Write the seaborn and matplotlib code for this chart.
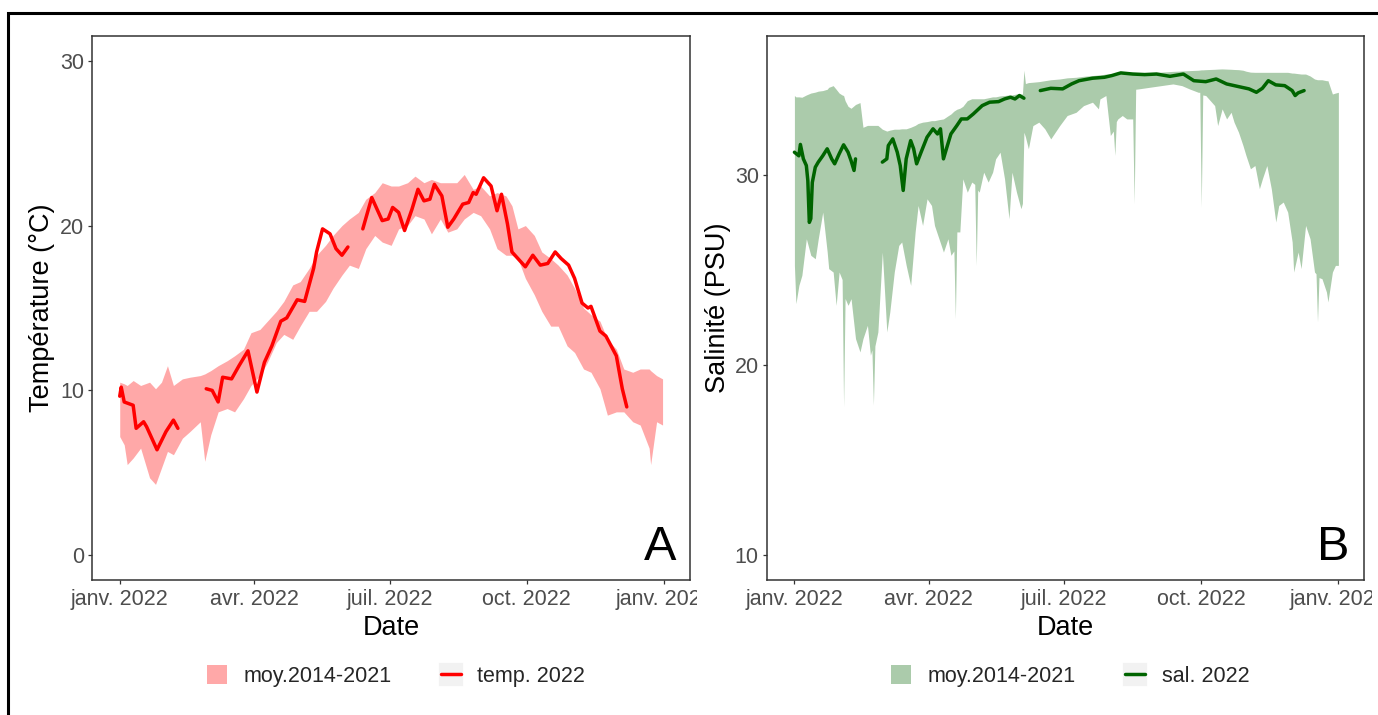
import numpy as np
import pandas as pd
import matplotlib
matplotlib.use("Agg")
import matplotlib.pyplot as plt
import seaborn as sns
from matplotlib.patches import Patch, Rectangle
from matplotlib.lines import Line2D
from matplotlib.legend_handler import HandlerTuple
from matplotlib.transforms import Bbox, TransformedBbox

# ---------------- data (day of year 2022, values) ----------------
temp_band_day = [0, 3, 5, 9, 14, 20, 24, 28, 32, 36, 42, 47, 54, 57, 61, 66, 72, 77, 83, 88,
                 94, 99, 105, 110, 116, 121, 127, 132, 138, 143, 149, 154, 160, 165, 171, 176,
                 182, 187, 193, 198, 204, 209, 215, 220, 226, 231, 237, 242, 248, 253, 259, 263,
                 267, 272, 278, 283, 289, 294, 300, 305, 311, 316, 322, 327, 333, 338, 344, 349,
                 355, 356, 360, 364]
temp_band_low = [7.2, 6.7, 5.5, 5.9, 6.5, 4.7, 4.3, 5.3, 6.3, 6.1, 7.1, 7.5, 8.1, 5.7, 7.3, 8.7,
                 8.9, 8.7, 9.5, 10.3, 10.9, 11.7, 12.9, 13.4, 13.1, 13.9, 14.8, 14.8, 15.4, 16.2,
                 17.0, 17.6, 17.4, 18.6, 19.4, 19.0, 18.8, 19.8, 20.0, 20.6, 20.4, 19.5, 20.4,
                 19.6, 19.8, 20.4, 20.8, 20.6, 19.8, 18.6, 18.2, 18.2, 18.0, 16.8, 15.8, 14.8,
                 13.9, 13.9, 12.7, 12.3, 11.3, 11.1, 10.1, 8.5, 8.7, 8.7, 8.1, 7.9, 6.5, 5.5,
                 8.1, 7.9]
temp_band_high = [10.5, 10.4, 10.3, 10.6, 10.3, 10.5, 10.1, 10.5, 11.5, 10.3, 10.7, 10.8, 10.9,
                  11.0, 11.2, 11.5, 11.8, 12.1, 12.5, 13.5, 13.7, 14.2, 14.8, 15.4, 16.4, 16.6,
                  17.4, 18.2, 18.8, 19.4, 20.0, 20.4, 20.8, 21.6, 22.0, 22.6, 22.4, 22.4, 22.6,
                  23.0, 22.6, 22.8, 22.6, 22.6, 22.6, 23.1, 22.2, 22.4, 21.8, 22.0, 21.8, 21.2,
                  19.8, 20.0, 19.4, 18.4, 18.0, 17.6, 17.0, 16.2, 15.0, 14.6, 14.2, 13.1, 12.5,
                  11.3, 11.1, 11.3, 11.3, 11.2, 10.9, 10.7]

temp_2022_days = [
    [0, 1, 3, 9, 11, 16, 18, 25, 31, 36, 39],
    [58, 62, 66, 69, 75, 80, 86, 92, 97, 102, 108, 112, 119, 124, 130, 132, 136, 141, 145, 149, 153],
    [163, 169, 176, 180, 183, 187, 191, 196, 200, 204, 208, 211, 216, 220, 224, 230, 234, 237, 239,
     244, 249, 253, 256, 260, 263, 267, 272, 277, 282, 287, 292, 296, 301, 305, 310, 314, 316, 322,
     326, 333, 337, 340],
]
temp_2022_vals = [
    [9.65, 10.2, 9.3, 9.1, 7.7, 8.1, 7.8, 6.4, 7.5, 8.2, 7.7],
    [10.1, 10.0, 9.3, 10.8, 10.7, 11.5, 12.4, 9.9, 11.7, 12.7, 14.2, 14.4, 15.5, 15.4, 17.4, 18.4,
     19.8, 19.5, 18.6, 18.2, 18.7],
    [19.8, 21.7, 20.3, 20.4, 21.1, 20.8, 19.7, 21.0, 22.2, 21.5, 21.6, 22.5, 21.8, 19.9, 20.4, 21.3,
     21.4, 22.0, 21.9, 22.9, 22.4, 20.9, 21.9, 20.1, 18.4, 18.0, 17.5, 18.2, 17.6, 17.7, 18.4, 18.0,
     17.6, 16.8, 15.3, 15.0, 15.1, 13.6, 13.3, 12.1, 10.1, 9.0],
]

sal_band_day = [0, 1, 3, 5, 8, 11, 14, 16, 19, 22,
                23, 26, 28, 30, 32, 33, 34, 36, 38, 41,
                44, 46, 49, 51, 52, 53, 54, 56, 59, 62,
                64, 67, 70, 72, 75, 78, 81, 83, 86, 89,
                92, 94, 97, 100, 103, 105, 107, 108, 109, 111,
                113, 116, 119, 121, 122, 123, 124, 127, 130, 133,
                135, 138, 141, 144, 146, 149, 152, 153, 154, 155,
                157, 160, 164, 168, 172, 178, 183, 189, 194, 200,
                204, 205, 209, 212, 214, 215, 216, 217, 220, 223,
                226, 227, 228, 229, 231, 238, 246, 254, 260, 265,
                271, 272, 273, 274, 276, 282, 284, 287, 290, 293,
                295, 298, 301, 303, 306, 309, 312, 314, 317, 320,
                323, 325, 328, 331, 334, 335, 338, 340, 343, 346,
                349, 350, 351, 352, 354, 357, 358, 361, 363, 365]
sal_band_low = [25.24, 23.23, 24.19, 24.72, 26.64, 25.77, 25.59, 26.64, 28.04, 25.94,
                25.07, 24.89, 23.14, 24.89, 24.5, 17.8, 23.5, 23.14, 23.49, 21.39,
                20.69, 21.39, 22.09, 20.52, 20.8, 17.89, 21.0, 21.74, 25.94, 21.74,
                22.79, 24.89, 26.29, 26.47, 25.24, 24.19, 27.0, 28.39, 27.34, 28.74,
                28.39, 27.34, 26.64, 25.94, 26.64, 25.77, 26.0, 22.44, 27.0, 27.0,
                29.79, 29.09, 29.62, 29.5, 25.24, 29.2, 29.09, 30.14, 29.62, 30.14,
                30.84, 31.19, 29.79, 27.69, 30.14, 29.09, 28.22, 28.5, 32.24, 32.0,
                31.37, 32.59, 32.77, 32.42, 31.89, 32.59, 33.12, 33.29, 33.64, 33.82,
                33.47, 33.99, 34.17, 32.07, 32.3, 31.02, 32.8, 32.94, 33.12, 32.94,
                32.94, 32.94, 28.48, 34.5, 34.52, 34.6, 34.69, 34.78, 34.69, 34.52,
                34.34, 34.34, 28.3, 34.2, 34.17, 33.64, 32.59, 33.47, 32.94, 33.29,
                32.77, 32.24, 31.54, 31.02, 30.32, 30.49, 29.27, 29.79, 30.49, 29.27,
                27.52, 28.39, 28.57, 28.04, 26.47, 24.89, 25.94, 25.07, 27.34, 26.64,
                24.89, 24.8, 22.27, 24.6, 24.54, 23.84, 23.32, 24.89, 25.24, 25.24]
sal_band_high = [34.17, 34.1, 34.1, 34.08, 34.2, 34.3, 34.35, 34.4, 34.43, 34.5,
                 34.6, 34.69, 34.5, 34.3, 34.2, 34.17, 33.9, 33.6, 33.5, 33.7,
                 33.8, 32.5, 32.6, 32.6, 32.6, 32.6, 32.6, 32.6, 32.4, 32.3,
                 32.35, 32.4, 32.4, 32.42, 32.42, 32.5, 32.6, 32.7, 32.77, 32.8,
                 32.85, 32.85, 32.9, 32.94, 33.1, 33.2, 33.35, 33.4, 33.45, 33.5,
                 33.6, 33.9, 34.0, 34.0, 34.0, 34.0, 34.0, 34.0, 34.05, 34.1,
                 34.1, 34.15, 34.17, 34.2, 34.2, 34.25, 34.25, 34.25, 35.5, 34.8,
                 34.85, 34.87, 34.9, 34.95, 35.0, 35.04, 35.1, 35.13, 35.18, 35.22,
                 35.25, 35.25, 35.3, 35.3, 35.31, 35.32, 35.33, 35.35, 35.38, 35.39,
                 35.39, 35.39, 35.39, 35.39, 35.39, 35.39, 35.4, 35.44, 35.46, 35.48,
                 35.5, 35.51, 35.52, 35.52, 35.53, 35.55, 35.56, 35.57, 35.56, 35.55,
                 35.54, 35.53, 35.5, 35.45, 35.4, 35.39, 35.39, 35.39, 35.39, 35.39,
                 35.39, 35.39, 35.39, 35.39, 35.35, 35.35, 35.32, 35.3, 35.3, 35.2,
                 35.04, 35.02, 35.0, 35.0, 35.0, 34.95, 34.95, 34.25, 34.3, 34.34]

sal_2022_days = [
    [0, 3, 4, 6, 8, 9, 10, 11, 12, 14, 16, 19, 22, 25, 27, 30, 33, 36, 38, 40, 41],
    [59, 62, 63, 66, 69, 71, 73, 75, 78, 80, 82, 85, 89, 93, 96, 98, 100, 102, 105, 109, 112, 116,
     120, 126, 131, 137, 141, 145, 148, 151, 154],
    [165, 172, 180, 186, 191, 200, 208, 213, 219, 227, 235, 243, 252, 261, 268, 276, 283, 290, 298,
     305, 310, 314, 318, 323, 329, 334, 336, 338, 342],
]
sal_2022_vals = [
    [31.19, 31.0, 31.6, 30.84, 30.49, 29.7, 27.5, 27.7, 29.6, 30.4, 30.67, 31.0, 31.37, 30.84,
     30.58, 31.1, 31.58, 31.19, 30.75, 30.23, 30.84],
    [30.67, 30.84, 31.54, 31.89, 31.19, 30.49, 29.18, 30.84, 31.8, 31.37, 30.58, 31.19, 31.98,
     32.42, 32.15, 32.42, 30.84, 31.37, 32.15, 32.59, 32.94, 32.94, 33.2, 33.64, 33.82, 33.85,
     33.99, 34.08, 33.99, 34.17, 34.03],
    [34.43, 34.55, 34.52, 34.78, 34.95, 35.08, 35.13, 35.22, 35.36, 35.3, 35.27, 35.3, 35.18,
     35.3, 34.95, 34.9, 35.04, 34.78, 34.64, 34.52, 34.34, 34.55, 34.95, 34.73, 34.69, 34.43,
     34.17, 34.31, 34.43],
]

tick_dates = ["2022-01-01", "2022-04-01", "2022-07-01", "2022-10-01", "2023-01-01"]
tick_labels = ["janv. 2022", "avr. 2022", "juil. 2022", "oct. 2022", "janv. 2023"]

# ---------------- styling ----------------
sns.set_style("ticks")
plt.rcParams["font.family"] = ["Liberation Sans", "DejaVu Sans"]

W, H = 1378, 715
fig = plt.figure(figsize=(W / 100, H / 100), dpi=100)

base = pd.Timestamp("2022-01-01")


def to_dates(days):
    return base + pd.to_timedelta(np.asarray(days, dtype=float), unit="D")


def line_frame(days_list, vals_list):
    parts = []
    for i, (d, v) in enumerate(zip(days_list, vals_list)):
        parts.append(pd.DataFrame({"date": to_dates(d), "val": v, "seg": i}))
    return pd.concat(parts, ignore_index=True)


GRID = "#333333"
TICKC = "#4D4D4D"


def style_axes(ax, yticks, ylim, ylabel, clip_right_px, ylabel_x):
    ax.set_xlim(base - pd.Timedelta(days=18.6), base + pd.Timedelta(days=382.4))
    ax.set_ylim(*ylim)
    ax.set_yticks(yticks)
    ax.set_xticks(pd.to_datetime(tick_dates))
    ax.set_xticklabels(tick_labels)
    for s in ax.spines.values():
        s.set_visible(True)
        s.set_color(GRID)
        s.set_linewidth(1.1)
    ax.tick_params(axis="both", direction="out", length=3.2, width=0.9, color=GRID,
                   labelsize=15.5, labelcolor=TICKC, pad=2.5)
    ax.tick_params(axis="x", pad=3.5)
    ax.set_xlabel("Date", fontsize=19.5, color="black")
    ax.set_ylabel(ylabel, fontsize=19.5, color="black")
    ax.xaxis.set_label_coords(0.5, -0.088)
    ax.xaxis.label.set_va("center")
    ax.yaxis.set_label_coords(ylabel_x, 0.5)
    ax.yaxis.label.set_va("center")
    ax.grid(False)
    clip = TransformedBbox(Bbox([[0, 0], [clip_right_px / W, 1]]), fig.transFigure)
    for lab in ax.get_xticklabels():
        lab.set_clip_box(clip)
        lab.set_clip_on(True)


# ---------------- panel A ----------------
axA = fig.add_axes([92 / W, (H - 580) / H, 598 / W, 544 / H])
colA_band = "#FFA8A8"
axA.fill_between(to_dates(temp_band_day), temp_band_low, temp_band_high,
                 color=colA_band, lw=0, zorder=1)
dfA = line_frame(temp_2022_days, temp_2022_vals)
sns.lineplot(data=dfA, x="date", y="val", units="seg", estimator=None, color="#FF0000",
             lw=2.5, ax=axA, legend=False, zorder=3)
style_axes(axA, [0, 10, 20, 30], (-1.5, 31.5), "Température (°C)", 697, (42 - 92) / 598)
axA.text(0.977, 0.037, "A", transform=axA.transAxes, ha="right", va="baseline",
         fontsize=35, color="black")

# ---------------- panel B ----------------
axB = fig.add_axes([766.7 / W, (H - 580) / H, 597.6 / W, 544 / H])
colB_band = "#ABCBAB"
axB.fill_between(to_dates(sal_band_day), sal_band_low, sal_band_high,
                 color=colB_band, lw=0, zorder=1)
dfB = line_frame(sal_2022_days, sal_2022_vals)
sns.lineplot(data=dfB, x="date", y="val", units="seg", estimator=None, color="#006400",
             lw=2.5, ax=axB, legend=False, zorder=3)
style_axes(axB, [10, 20, 30], (8.7, 37.3), "Salinité (PSU)", 1372, (718 - 766.7) / 597.6)
axB.text(0.976, 0.037, "B", transform=axB.transAxes, ha="right", va="baseline",
         fontsize=35, color="black")

# ---------------- legends ----------------
def add_legend(center_px, fill_col, line_col, line_label):
    bg = Patch(facecolor="#F2F2F2", edgecolor="#F2F2F2", linewidth=3)
    handles = [Patch(facecolor=fill_col, edgecolor="none"),
               (bg, Line2D([], [], color=line_col, lw=2.5))]
    fig.legend(handles, ["moy.2014-2021", line_label], loc="center",
               bbox_to_anchor=(center_px / W, 1 - 676 / H), ncol=2, frameon=False,
               fontsize=15.5, handlelength=0.95, handleheight=0.95, handletextpad=0.75,
               columnspacing=2.3, handler_map={tuple: HandlerTuple(ndivide=1, pad=0)})


add_legend(396, colA_band, "#FF0000", "temp. 2022")
add_legend(1070, colB_band, "#006400", "sal. 2022")

# outer frame
fig.add_artist(Rectangle((8 / W, -0.05), 1.2, 1 - 13 / H + 0.05, transform=fig.transFigure,
                         fill=False, edgecolor="black", linewidth=2.2))

fig.savefig("out.png", dpi=100, facecolor="white")
